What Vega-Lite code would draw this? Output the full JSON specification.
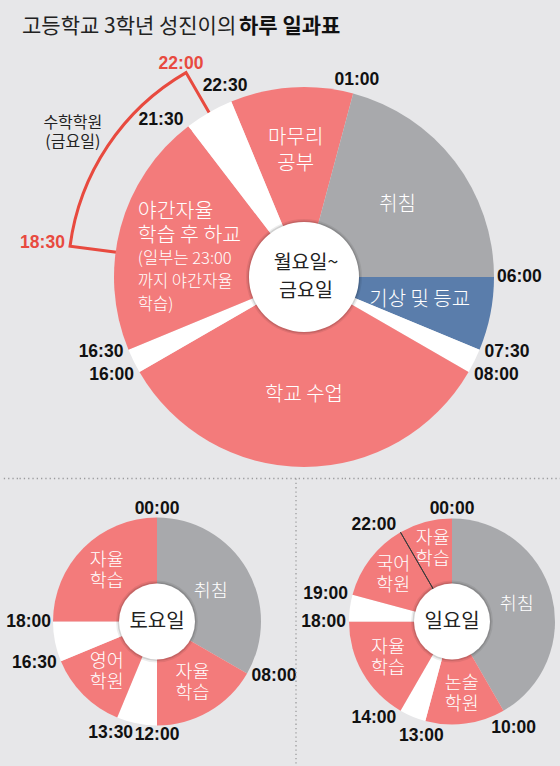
{
  "$schema": "https://vega.github.io/schema/vega-lite/v6.json",
  "background": "#e7e7e9",
  "padding": {"top": 15.5, "left": 0, "right": 0, "bottom": 0},
  "data": {"values": [{}]},
  "config": {"view": {"stroke": null}},
  "datasets": {
    "segments": [
      {"day": "weekday", "activity": "마무리\n공부", "start": 22.5, "end": 25, "kind": "study"},
      {"day": "weekday", "activity": "취침", "start": 1, "end": 6, "kind": "sleep"},
      {"day": "weekday", "activity": "기상 및 등교", "start": 6, "end": 7.5, "kind": "commute"},
      {"day": "weekday", "activity": "", "start": 7.5, "end": 8, "kind": "gap"},
      {"day": "weekday", "activity": "학교 수업", "start": 8, "end": 16, "kind": "study"},
      {"day": "weekday", "activity": "", "start": 16, "end": 16.5, "kind": "gap"},
      {"day": "weekday", "activity": "야간자율\n학습 후 하교", "start": 16.5, "end": 21.5, "kind": "study", "note": "(일부는 23:00\n까지 야간자율\n학습)"},
      {"day": "weekday", "activity": "", "start": 21.5, "end": 22.5, "kind": "gap"},
      {"day": "sat", "activity": "취침", "start": 0, "end": 8, "kind": "sleep"},
      {"day": "sat", "activity": "자율\n학습", "start": 8, "end": 12, "kind": "study"},
      {"day": "sat", "activity": "", "start": 12, "end": 13.5, "kind": "gap"},
      {"day": "sat", "activity": "영어\n학원", "start": 13.5, "end": 16.5, "kind": "study"},
      {"day": "sat", "activity": "", "start": 16.5, "end": 18, "kind": "gap"},
      {"day": "sat", "activity": "자율\n학습", "start": 18, "end": 24, "kind": "study"},
      {"day": "sun", "activity": "취침", "start": 0, "end": 10, "kind": "sleep"},
      {"day": "sun", "activity": "논술\n학원", "start": 10, "end": 13, "kind": "study"},
      {"day": "sun", "activity": "", "start": 13, "end": 14, "kind": "gap"},
      {"day": "sun", "activity": "자율\n학습", "start": 14, "end": 18, "kind": "study"},
      {"day": "sun", "activity": "", "start": 18, "end": 19, "kind": "gap"},
      {"day": "sun", "activity": "국어\n학원", "start": 19, "end": 22, "kind": "study"},
      {"day": "sun", "activity": "자율\n학습", "start": 22, "end": 24, "kind": "study"}
    ],
    "academy": [
      {"day": "weekday", "activity": "수학학원\n(금요일)", "start": 18.5, "end": 22, "from": "18:30", "to": "22:00"}
    ],
    "dividers": [
      {"day": "sun", "t": 22}
    ],
    "centers": [
      {"day": "weekday", "name": "월요일~\n금요일"},
      {"day": "sat", "name": "토요일"},
      {"day": "sun", "name": "일요일"}
    ],
    "times": [
      {"day": "weekday", "time": "22:30"},
      {"day": "weekday", "time": "21:30"},
      {"day": "weekday", "time": "01:00"},
      {"day": "weekday", "time": "06:00"},
      {"day": "weekday", "time": "07:30"},
      {"day": "weekday", "time": "08:00"},
      {"day": "weekday", "time": "16:30"},
      {"day": "weekday", "time": "16:00"},
      {"day": "sat", "time": "00:00"},
      {"day": "sat", "time": "08:00"},
      {"day": "sat", "time": "12:00"},
      {"day": "sat", "time": "13:30"},
      {"day": "sat", "time": "16:30"},
      {"day": "sat", "time": "18:00"},
      {"day": "sun", "time": "00:00"},
      {"day": "sun", "time": "10:00"},
      {"day": "sun", "time": "13:00"},
      {"day": "sun", "time": "14:00"},
      {"day": "sun", "time": "18:00"},
      {"day": "sun", "time": "19:00"},
      {"day": "sun", "time": "22:00"}
    ]
  },
  "spacing": 0,
  "vconcat": [
    {
      "spacing": 0,
      "bounds": "flush",
      "hconcat": [
        {
          "width": 46,
          "height": 401,
          "title": {"text": "고등학교 3학년 성진이의", "anchor": "start", "frame": "group", "dx": 21, "offset": 40, "font": "Noto Sans CJK KR", "fontSize": 21, "fontWeight": "normal", "color": "#222222"},
          "mark": {"type": "text", "text": ""}
        },
        {
          "width": 514,
          "height": 401,
          "title": {"text": "하루 일과표", "anchor": "start", "frame": "group", "dx": 192, "offset": 18, "font": "Noto Sans CJK KR", "fontSize": 21, "fontWeight": "bold", "color": "#111111"},
          "layer": [
            {
              "data": {"name": "academy"},
              "mark": {"type": "arc", "innerRadius": 185, "outerRadius": 236, "fillOpacity": 0, "stroke": "#e84a3f", "strokeWidth": 3, "strokeJoin": "miter"},
              "encoding": {
                "theta": {"field": "start", "type": "quantitative", "scale": {"domain": [0, 24], "range": [0, 6.283185307179586]}},
                "theta2": {"field": "end"}
              }
            },
            {
              "data": {"name": "segments"},
              "transform": [{"filter": "datum.day === 'weekday'"}],
              "mark": {"type": "arc", "outerRadius": 190},
              "encoding": {
                "theta": {"field": "start", "type": "quantitative", "scale": {"domain": [0, 24], "range": [0, 6.283185307179586]}},
                "theta2": {"field": "end"},
                "color": {"field": "kind", "type": "nominal", "legend": null, "scale": {"domain": ["study", "sleep", "commute", "gap"], "range": ["#f37b7b", "#a8a9ac", "#5a7dab", "#ffffff"]}}
              }
            },
            {
              "data": {"name": "centers"},
              "transform": [{"filter": "datum.day === 'weekday'"}],
              "mark": {"type": "arc", "theta": 0, "theta2": 6.2832, "outerRadius": 58, "fill": "#000000", "fillOpacity": 0.07}
            },
            {
              "data": {"name": "centers"},
              "transform": [{"filter": "datum.day === 'weekday'"}],
              "mark": {"type": "arc", "theta": 0, "theta2": 6.2832, "outerRadius": 56.5, "fill": "#000000", "fillOpacity": 0.12}
            },
            {
              "data": {"name": "centers"},
              "transform": [{"filter": "datum.day === 'weekday'"}],
              "mark": {"type": "arc", "theta": 0, "theta2": 6.2832, "outerRadius": 55, "fill": "#ffffff", "fillOpacity": 1}
            },
            {
              "data": {"name": "centers"},
              "transform": [{"filter": "datum.day === 'weekday'"}],
              "mark": {"type": "text", "font": "Noto Sans CJK KR", "fontSize": 19.5, "color": "#222222", "lineBreak": "\n", "lineHeight": 28, "align": "center", "baseline": "middle", "dx": 2, "dy": -14.5},
              "encoding": {"text": {"field": "name"}}
            },
            {
              "data": {"name": "segments"},
              "transform": [{"filter": "datum.day === 'weekday' && datum.kind !== 'gap' && !isValid(datum.note) && indexof(datum.activity, '\\n') < 0"}],
              "mark": {"type": "text", "font": "Noto Sans CJK KR", "fontSize": 20, "fontWeight": 300, "color": "#ffffff", "align": "center", "baseline": "middle", "theta": {"expr": "PI*(datum.start+datum.end)/24"}, "radius": 118},
              "encoding": {"text": {"field": "activity"}}
            },
            {
              "data": {"name": "segments"},
              "transform": [{"filter": "datum.day === 'weekday' && datum.kind !== 'gap' && !isValid(datum.note) && indexof(datum.activity, '\\n') >= 0"}],
              "mark": {"type": "text", "font": "Noto Sans CJK KR", "fontSize": 20, "fontWeight": 300, "color": "#ffffff", "lineBreak": "\n", "lineHeight": 26, "align": "center", "baseline": "middle", "theta": {"expr": "PI*(datum.start+datum.end)/24"}, "radius": 127, "dy": -12},
              "encoding": {"text": {"field": "activity"}}
            },
            {
              "data": {"name": "segments"},
              "transform": [{"filter": "datum.day === 'weekday' && isValid(datum.note)"}],
              "mark": {"type": "text", "font": "Noto Sans CJK KR", "fontSize": 20.5, "fontWeight": 300, "color": "#ffffff", "lineBreak": "\n", "lineHeight": 24, "align": "left", "baseline": "middle", "theta": {"expr": "PI*(datum.start+datum.end)/24"}, "radius": 172, "dy": -20},
              "encoding": {"text": {"field": "activity"}}
            },
            {
              "data": {"name": "segments"},
              "transform": [{"filter": "datum.day === 'weekday' && isValid(datum.note)"}],
              "mark": {"type": "text", "font": "Noto Sans CJK KR", "fontSize": 16.5, "fontWeight": 300, "color": "#ffffff", "lineBreak": "\n", "lineHeight": 23, "align": "left", "baseline": "middle", "theta": {"expr": "PI*(datum.start+datum.end)/24"}, "radius": 172, "dy": 27},
              "encoding": {"text": {"field": "note"}}
            },
            {
              "data": {"name": "academy"},
              "mark": {"type": "text", "font": "Noto Sans CJK KR", "fontSize": 16, "color": "#222222", "lineBreak": "\n", "lineHeight": 19.5, "align": "center", "baseline": "middle", "theta": {"expr": "PI*(datum.start+datum.end)/24"}, "radius": 272, "dx": -5, "dy": -3},
              "encoding": {"text": {"field": "activity"}}
            },
            {
              "data": {"name": "times"},
              "transform": [{"filter": "datum.day === 'weekday'"}],
              "mark": {"type": "text", "font": "Liberation Sans", "fontSize": 17.5, "fontWeight": "bold", "color": "#111111", "baseline": "middle",
                "align": {"expr": "sin((toNumber(slice(datum.time,0,2))+toNumber(slice(datum.time,3,5))/60)*PI/12) < -0.4 ? 'right' : (sin((toNumber(slice(datum.time,0,2))+toNumber(slice(datum.time,3,5))/60)*PI/12) > 0.6 ? 'left' : 'center')"},
                "theta": {"expr": "(toNumber(slice(datum.time,0,2))+toNumber(slice(datum.time,3,5))/60)*PI/12"},
                "radius": {"expr": "(sin((toNumber(slice(datum.time,0,2))+toNumber(slice(datum.time,3,5))/60)*PI/12) < -0.4 || sin((toNumber(slice(datum.time,0,2))+toNumber(slice(datum.time,3,5))/60)*PI/12) > 0.6) ? 193+6.5*abs(cos((toNumber(slice(datum.time,0,2))+toNumber(slice(datum.time,3,5))/60)*PI/12)) : 192+22*abs(sin((toNumber(slice(datum.time,0,2))+toNumber(slice(datum.time,3,5))/60)*PI/12))+6.5*abs(cos((toNumber(slice(datum.time,0,2))+toNumber(slice(datum.time,3,5))/60)*PI/12))"}},
              "encoding": {"text": {"field": "time"}}
            },
            {
              "data": {"name": "academy"},
              "mark": {"type": "text", "font": "Liberation Sans", "fontSize": 17.5, "fontWeight": "bold", "color": "#e84a3f", "align": "center", "baseline": "middle",
                "theta": {"expr": "datum.start*PI/12"},
                "radius": {"expr": "217.5+45.8*abs(sin(datum.start*PI/12))+6.5*abs(cos(datum.start*PI/12))"}},
              "encoding": {"text": {"field": "from"}}
            },
            {
              "data": {"name": "academy"},
              "mark": {"type": "text", "font": "Liberation Sans", "fontSize": 17.5, "fontWeight": "bold", "color": "#e84a3f", "align": "center", "baseline": "middle",
                "theta": {"expr": "datum.end*PI/12"},
                "radius": {"expr": "217.5+45.8*abs(sin(datum.end*PI/12))+6.5*abs(cos(datum.end*PI/12))"}},
              "encoding": {"text": {"field": "to"}}
            }
          ]
        }
      ]
    },
    {
      "spacing": 0,
      "bounds": "flush",
      "hconcat": [
        {
          "width": 17,
          "height": 286,
          "mark": {"type": "rule", "stroke": "#9c9c9e", "strokeWidth": 1.3, "strokeDash": [1.3, 3]},
          "encoding": {"y": {"value": 0}}
        },
        {
          "width": 278,
          "height": 286,
          "layer": [
            {
              "mark": {"type": "rule", "stroke": "#9c9c9e", "strokeWidth": 1.3, "strokeDash": [1.3, 3]},
              "encoding": {"y": {"value": 0}}
            },
            {
              "data": {"name": "segments"},
              "transform": [{"filter": "datum.day === 'sat'"}],
              "mark": {"type": "arc", "outerRadius": 104},
              "encoding": {
                "theta": {"field": "start", "type": "quantitative", "scale": {"domain": [0, 24], "range": [0, 6.283185307179586]}},
                "theta2": {"field": "end"},
                "color": {"field": "kind", "type": "nominal", "legend": null, "scale": {"domain": ["study", "sleep", "commute", "gap"], "range": ["#f37b7b", "#a8a9ac", "#5a7dab", "#ffffff"]}}
              }
            },
            {
              "data": {"name": "centers"},
              "transform": [{"filter": "datum.day === 'sat'"}],
              "mark": {"type": "arc", "theta": 0, "theta2": 6.2832, "outerRadius": 41, "fill": "#000000", "fillOpacity": 0.07}
            },
            {
              "data": {"name": "centers"},
              "transform": [{"filter": "datum.day === 'sat'"}],
              "mark": {"type": "arc", "theta": 0, "theta2": 6.2832, "outerRadius": 39.5, "fill": "#000000", "fillOpacity": 0.12}
            },
            {
              "data": {"name": "centers"},
              "transform": [{"filter": "datum.day === 'sat'"}],
              "mark": {"type": "arc", "theta": 0, "theta2": 6.2832, "outerRadius": 38, "fill": "#ffffff", "fillOpacity": 1}
            },
            {
              "data": {"name": "centers"},
              "transform": [{"filter": "datum.day === 'sat'"}],
              "mark": {"type": "text", "font": "Noto Sans CJK KR", "fontSize": 20, "color": "#222222", "align": "center", "baseline": "middle"},
              "encoding": {"text": {"field": "name"}}
            },
            {
              "data": {"name": "segments"},
              "transform": [{"filter": "datum.day === 'sat' && datum.kind !== 'gap' && indexof(datum.activity, '\\n') < 0"}],
              "mark": {"type": "text", "font": "Noto Sans CJK KR", "fontSize": 18.5, "fontWeight": 300, "color": "#ffffff", "align": "center", "baseline": "middle", "theta": {"expr": "PI*(datum.start+datum.end)/24"}, "radius": 62},
              "encoding": {"text": {"field": "activity"}}
            },
            {
              "data": {"name": "segments"},
              "transform": [{"filter": "datum.day === 'sat' && datum.kind !== 'gap' && indexof(datum.activity, '\\n') >= 0"}],
              "mark": {"type": "text", "font": "Noto Sans CJK KR", "fontSize": 18.5, "fontWeight": 300, "color": "#ffffff", "lineBreak": "\n", "lineHeight": 21, "align": "center", "baseline": "middle", "theta": {"expr": "PI*(datum.start+datum.end)/24"}, "radius": 71, "dy": -11},
              "encoding": {"text": {"field": "activity"}}
            },
            {
              "data": {"name": "times"},
              "transform": [{"filter": "datum.day === 'sat'"}],
              "mark": {"type": "text", "font": "Liberation Sans", "fontSize": 17.5, "fontWeight": "bold", "color": "#111111", "baseline": "middle",
                "align": {"expr": "sin((toNumber(slice(datum.time,0,2))+toNumber(slice(datum.time,3,5))/60)*PI/12) < -0.4 ? 'right' : (sin((toNumber(slice(datum.time,0,2))+toNumber(slice(datum.time,3,5))/60)*PI/12) > 0.6 ? 'left' : 'center')"},
                "theta": {"expr": "(toNumber(slice(datum.time,0,2))+toNumber(slice(datum.time,3,5))/60)*PI/12"},
                "radius": {"expr": "(sin((toNumber(slice(datum.time,0,2))+toNumber(slice(datum.time,3,5))/60)*PI/12) < -0.4 || sin((toNumber(slice(datum.time,0,2))+toNumber(slice(datum.time,3,5))/60)*PI/12) > 0.6) ? 106+6.5*abs(cos((toNumber(slice(datum.time,0,2))+toNumber(slice(datum.time,3,5))/60)*PI/12)) : 106.5+22*abs(sin((toNumber(slice(datum.time,0,2))+toNumber(slice(datum.time,3,5))/60)*PI/12))+6.5*abs(cos((toNumber(slice(datum.time,0,2))+toNumber(slice(datum.time,3,5))/60)*PI/12))"}},
              "encoding": {"text": {"field": "time"}}
            }
          ]
        },
        {
          "width": 47,
          "height": 286,
          "layer": [
            {
              "mark": {"type": "rule", "stroke": "#9c9c9e", "strokeWidth": 1.3, "strokeDash": [1.3, 3]},
              "encoding": {"y": {"value": 0}}
            },
            {
              "mark": {"type": "rule", "stroke": "#9c9c9e", "strokeWidth": 1.3, "strokeDash": [1.3, 3]},
              "encoding": {"x": {"value": 0}}
            }
          ]
        },
        {
          "width": 218,
          "height": 286,
          "layer": [
            {
              "mark": {"type": "rule", "stroke": "#9c9c9e", "strokeWidth": 1.3, "strokeDash": [1.3, 3]},
              "encoding": {"y": {"value": 0}}
            },
            {
              "data": {"name": "segments"},
              "transform": [{"filter": "datum.day === 'sun'"}],
              "mark": {"type": "arc", "outerRadius": 103},
              "encoding": {
                "theta": {"field": "start", "type": "quantitative", "scale": {"domain": [0, 24], "range": [0, 6.283185307179586]}},
                "theta2": {"field": "end"},
                "color": {"field": "kind", "type": "nominal", "legend": null, "scale": {"domain": ["study", "sleep", "commute", "gap"], "range": ["#f37b7b", "#a8a9ac", "#5a7dab", "#ffffff"]}}
              }
            },
            {
              "data": {"name": "dividers"},
              "transform": [{"filter": "datum.day === 'sun'"}],
              "mark": {"type": "arc", "outerRadius": 103, "fillOpacity": 0, "stroke": "#3a3a3a", "strokeWidth": 1},
              "encoding": {
                "theta": {"field": "t", "type": "quantitative", "scale": {"domain": [0, 24], "range": [0, 6.283185307179586]}},
                "theta2": {"field": "t"}
              }
            },
            {
              "data": {"name": "centers"},
              "transform": [{"filter": "datum.day === 'sun'"}],
              "mark": {"type": "arc", "theta": 0, "theta2": 6.2832, "outerRadius": 41, "fill": "#000000", "fillOpacity": 0.07}
            },
            {
              "data": {"name": "centers"},
              "transform": [{"filter": "datum.day === 'sun'"}],
              "mark": {"type": "arc", "theta": 0, "theta2": 6.2832, "outerRadius": 39.5, "fill": "#000000", "fillOpacity": 0.12}
            },
            {
              "data": {"name": "centers"},
              "transform": [{"filter": "datum.day === 'sun'"}],
              "mark": {"type": "arc", "theta": 0, "theta2": 6.2832, "outerRadius": 38, "fill": "#ffffff", "fillOpacity": 1}
            },
            {
              "data": {"name": "centers"},
              "transform": [{"filter": "datum.day === 'sun'"}],
              "mark": {"type": "text", "font": "Noto Sans CJK KR", "fontSize": 20, "color": "#222222", "align": "center", "baseline": "middle"},
              "encoding": {"text": {"field": "name"}}
            },
            {
              "data": {"name": "segments"},
              "transform": [{"filter": "datum.day === 'sun' && datum.kind !== 'gap' && indexof(datum.activity, '\\n') < 0"}],
              "mark": {"type": "text", "font": "Noto Sans CJK KR", "fontSize": 18.5, "fontWeight": 300, "color": "#ffffff", "align": "center", "baseline": "middle", "theta": {"expr": "PI*(datum.start+datum.end)/24"}, "radius": 67},
              "encoding": {"text": {"field": "activity"}}
            },
            {
              "data": {"name": "segments"},
              "transform": [{"filter": "datum.day === 'sun' && datum.kind !== 'gap' && indexof(datum.activity, '\\n') >= 0"}],
              "mark": {"type": "text", "font": "Noto Sans CJK KR", "fontSize": 18.5, "fontWeight": 300, "color": "#ffffff", "lineBreak": "\n", "lineHeight": 21, "align": "center", "baseline": "middle", "theta": {"expr": "PI*(datum.start+datum.end)/24"}, "radius": 74, "dy": -12},
              "encoding": {"text": {"field": "activity"}}
            },
            {
              "data": {"name": "times"},
              "transform": [{"filter": "datum.day === 'sun'"}],
              "mark": {"type": "text", "font": "Liberation Sans", "fontSize": 17.5, "fontWeight": "bold", "color": "#111111", "baseline": "middle",
                "align": {"expr": "sin((toNumber(slice(datum.time,0,2))+toNumber(slice(datum.time,3,5))/60)*PI/12) < -0.4 ? 'right' : (sin((toNumber(slice(datum.time,0,2))+toNumber(slice(datum.time,3,5))/60)*PI/12) > 0.6 ? 'left' : 'center')"},
                "theta": {"expr": "(toNumber(slice(datum.time,0,2))+toNumber(slice(datum.time,3,5))/60)*PI/12"},
                "radius": {"expr": "(sin((toNumber(slice(datum.time,0,2))+toNumber(slice(datum.time,3,5))/60)*PI/12) < -0.4 || sin((toNumber(slice(datum.time,0,2))+toNumber(slice(datum.time,3,5))/60)*PI/12) > 0.6) ? 106+6.5*abs(cos((toNumber(slice(datum.time,0,2))+toNumber(slice(datum.time,3,5))/60)*PI/12)) : 106.5+22*abs(sin((toNumber(slice(datum.time,0,2))+toNumber(slice(datum.time,3,5))/60)*PI/12))+6.5*abs(cos((toNumber(slice(datum.time,0,2))+toNumber(slice(datum.time,3,5))/60)*PI/12))"}},
              "encoding": {"text": {"field": "time"}}
            }
          ]
        }
      ]
    }
  ]
}
